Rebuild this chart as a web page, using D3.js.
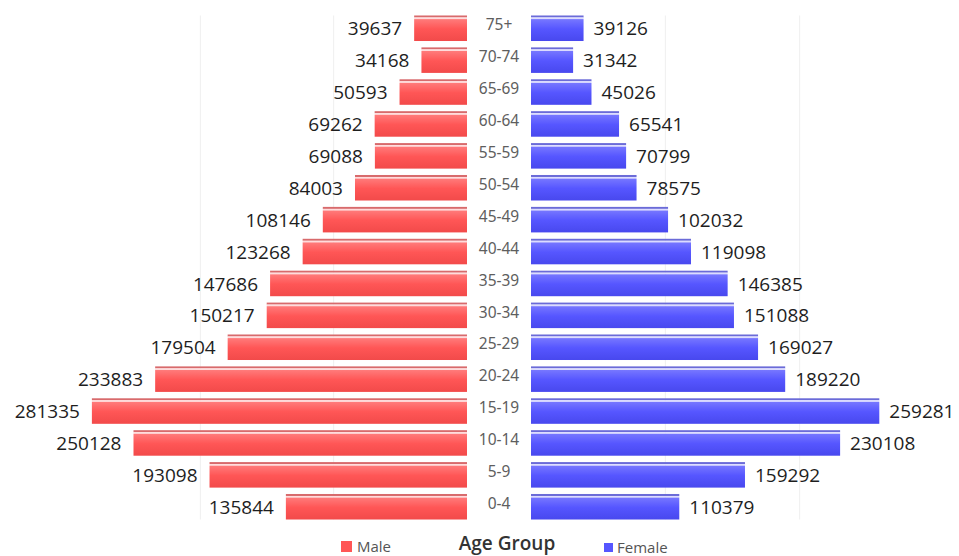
<!DOCTYPE html>
<html>
<head>
<meta charset="utf-8">
<script src="https://cdn.jsdelivr.net/npm/d3@7"></script>
<style>
  html, body { margin: 0; padding: 0; background: #ffffff; }
  svg { display: block; }
</style>
</head>
<body>
<svg id="chart" width="959" height="556"></svg>
<script>
// Population pyramid: male (left) vs female (right) by age group
const ageGroups = ["75+", "70-74", "65-69", "60-64", "55-59", "50-54", "45-49", "40-44",
                   "35-39", "30-34", "25-29", "20-24", "15-19", "10-14", "5-9", "0-4"];
const maleValues = [39637, 34168, 50593, 69262, 69088, 84003, 108146, 123268,
                    147686, 150217, 179504, 233883, 281335, 250128, 193098, 135844];
const femaleValues = [39126, 31342, 45026, 65541, 70799, 78575, 102032, 119098,
                      146385, 151088, 169027, 189220, 259281, 230108, 159292, 110379];
const gridTicks = [100000, 200000];

const svg = d3.select("#chart");
const defs = svg.append("defs");

function barGradient(id, top, mid, bottom) {
  const g = defs.append("linearGradient").attr("id", id)
    .attr("x1", 0).attr("y1", 0).attr("x2", 0).attr("y2", 1);
  g.append("stop").attr("offset", "0%").attr("stop-color", top);
  g.append("stop").attr("offset", "45%").attr("stop-color", mid);
  g.append("stop").attr("offset", "100%").attr("stop-color", bottom);
}
barGradient("gMale", "#ff7b7b", "#ff5656", "#f24a4a");
barGradient("gFemale", "#7777ff", "#5656ff", "#4848ee");

const xL = d3.scaleLinear().domain([0, 300000]).range([467, 67]);
const xR = d3.scaleLinear().domain([0, 300000]).range([531, 934]);
const y = d3.scaleBand().domain(ageGroups).range([12.3, 522.7])
  .paddingInner(0.2).paddingOuter(0.1);
const bw = y.bandwidth();

// faint vertical gridlines behind the bars
const gy0 = y(ageGroups[0]), gy1 = y(ageGroups[ageGroups.length - 1]) + bw;
const grid = svg.append("g").attr("stroke", "#efefef").attr("stroke-width", 1);
grid.selectAll("line.gl").data(gridTicks).join("line")
  .attr("x1", d => xL(d)).attr("x2", d => xL(d))
  .attr("y1", gy0).attr("y2", gy1);
grid.selectAll("line.gr").data(gridTicks).join("line")
  .attr("x1", d => xR(d)).attr("x2", d => xR(d))
  .attr("y1", gy0).attr("y2", gy1);

function drawSide(values, xs, side, grad, stripe, gap) {
  const rows = svg.append("g").selectAll("g")
    .data(ageGroups.map((a, i) => ({ age: a, v: values[i] })))
    .join("g");
  const x0 = d => Math.min(xs(0), xs(d.v));
  const w = d => Math.abs(xs(d.v) - xs(0));
  rows.append("rect").attr("x", x0).attr("width", w)
    .attr("y", d => y(d.age)).attr("height", 2).attr("fill", stripe);
  rows.append("rect").attr("x", x0).attr("width", w)
    .attr("y", d => y(d.age) + 2).attr("height", 1.6).attr("fill", gap);
  rows.append("rect").attr("x", x0).attr("width", w)
    .attr("y", d => y(d.age) + 3.6).attr("height", bw - 3.6).attr("fill", grad);
  rows.append("text")
    .attr("x", d => side === "left" ? xs(d.v) - 12 : xs(d.v) + 10)
    .attr("y", d => y(d.age) + bw / 2 + 2)
    .attr("dominant-baseline", "middle")
    .attr("text-anchor", side === "left" ? "end" : "start")
    .attr("font-family", "'Open Sans', sans-serif")
    .attr("font-size", 19)
    .attr("fill", "#1e1e1e")
    .text(d => d.v);
}
drawSide(maleValues, xL, "left", "url(#gMale)", "#d86a6c", "#ffdcdc");
drawSide(femaleValues, xR, "right", "url(#gFemale)", "#6b6bd8", "#dcdcff");

// age group labels in the centre gap
svg.append("g").selectAll("text").data(ageGroups).join("text")
  .attr("x", 499)
  .attr("y", d => y(d) + bw / 2 - 2)
  .attr("dominant-baseline", "middle")
  .attr("text-anchor", "middle")
  .attr("font-family", "'Noto Sans', sans-serif")
  .attr("font-size", 15.5)
  .attr("fill", "#5e5e5e")
  .text(d => d);

// legend and axis title
const lg = svg.append("g").attr("font-family", "'Open Sans', sans-serif");
lg.append("rect").attr("x", 341).attr("y", 541).attr("width", 11).attr("height", 11).attr("fill", "#ff5656");
lg.append("text").attr("x", 357).attr("y", 552).attr("font-size", 15).attr("fill", "#555").text("Male");
lg.append("text").attr("x", 507).attr("y", 550).attr("text-anchor", "middle")
  .attr("font-size", 19).attr("font-weight", 600).attr("fill", "#333").text("Age Group");
lg.append("rect").attr("x", 604).attr("y", 543).attr("width", 9).attr("height", 9).attr("fill", "#5656ff");
lg.append("text").attr("x", 617).attr("y", 553).attr("font-size", 15).attr("fill", "#555").text("Female");
</script>
</body>
</html>
